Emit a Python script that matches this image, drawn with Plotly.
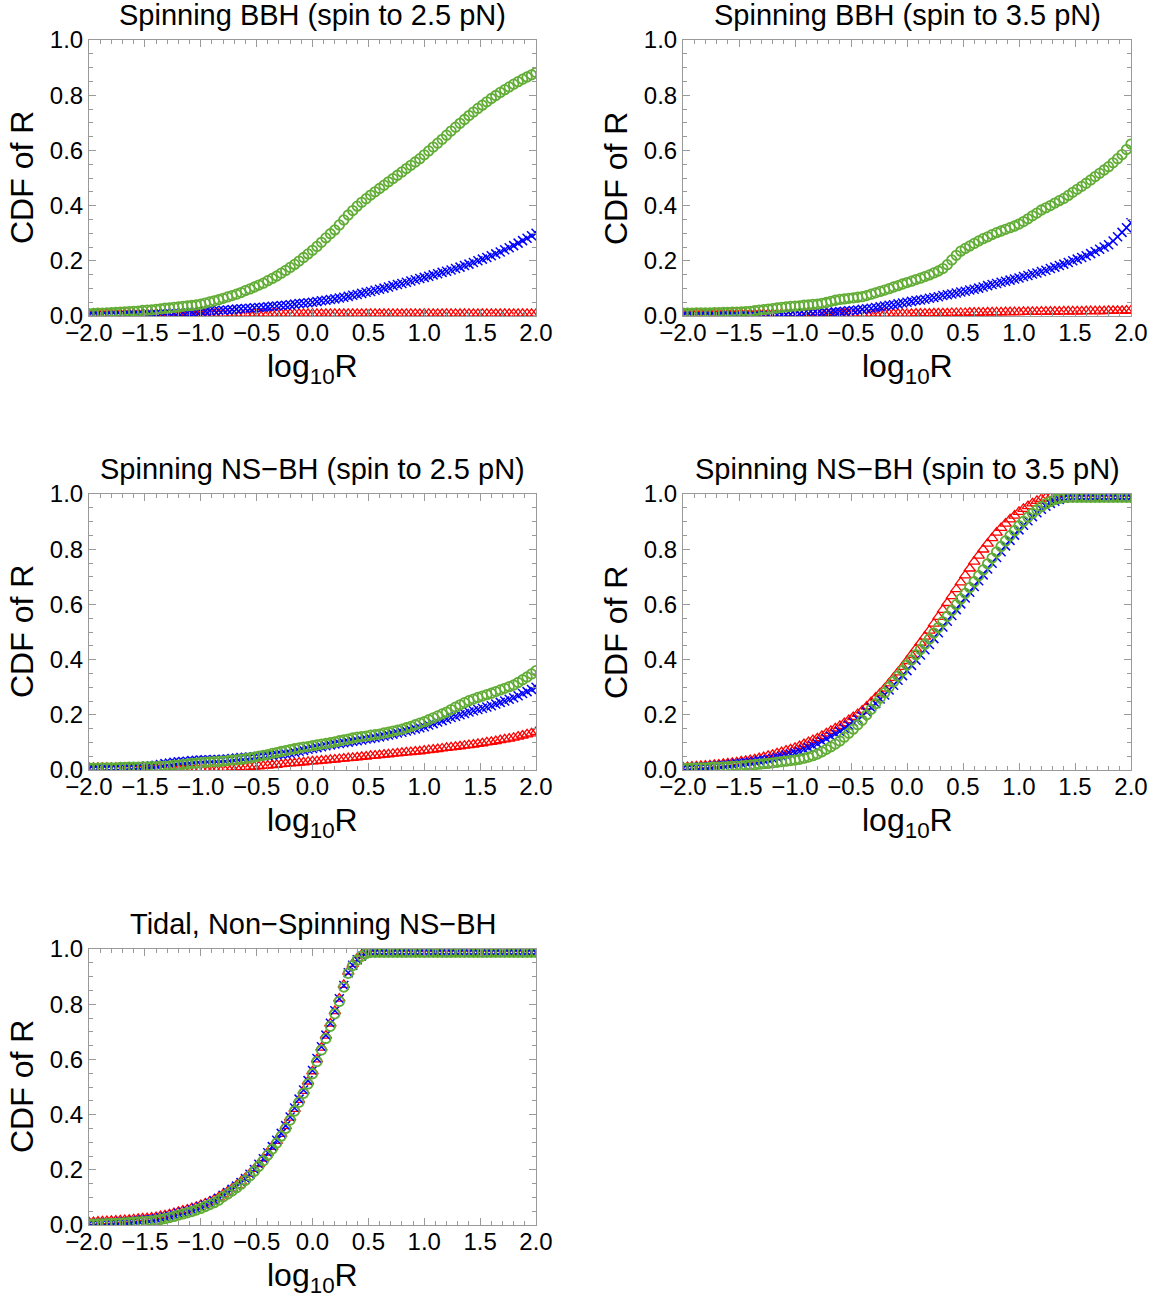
import plotly.graph_objects as go

# x grid: log10 R from -2 to 2 in steps of 0.04 (101 points)
log10R = [round(-2 + 0.04 * i, 2) for i in range(101)]

titles = ["Spinning BBH (spin to 2.5 pN)", "Spinning BBH (spin to 3.5 pN)",
          "Spinning NS\u2212BH (spin to 2.5 pN)", "Spinning NS\u2212BH (spin to 3.5 pN)",
          "Tidal, Non\u2212Spinning NS\u2212BH"]

# ---- Panel 1: Spinning BBH (2.5 pN)
p1_red = [0.008,0.008,0.008,0.008,0.008,0.008,0.008,0.008,0.008,0.008,0.008,0.008,0.008,0.008,0.008,0.008,0.008,0.008,0.008,0.008,
          0.008,0.008,0.008,0.008,0.008,0.008,0.008,0.008,0.008,0.008,0.008,0.008,0.008,0.008,0.008,0.008,0.008,0.008,0.008,0.008,
          0.008,0.008,0.008,0.008,0.008,0.008,0.008,0.008,0.008,0.008,0.008,0.008,0.008,0.008,0.008,0.008,0.008,0.008,0.008,0.008,
          0.008,0.008,0.008,0.008,0.008,0.008,0.008,0.008,0.008,0.008,0.008,0.008,0.008,0.008,0.008,0.008,0.008,0.008,0.008,0.008,
          0.008,0.008,0.008,0.008,0.008,0.008,0.008,0.008,0.008,0.008,0.008,0.008,0.008,0.008,0.008,0.008,0.008,0.008,0.008,0.008,0.008]
p1_blue = [0.002,0.002,0.002,0.003,0.003,0.003,0.003,0.004,0.004,0.005,0.005,0.006,0.006,0.007,0.007,0.008,0.009,0.010,0.010,0.011,
           0.012,0.013,0.014,0.014,0.015,0.016,0.017,0.018,0.019,0.020,0.021,0.022,0.023,0.025,0.026,0.027,0.028,0.030,0.031,0.032,
           0.033,0.035,0.036,0.038,0.039,0.041,0.043,0.045,0.046,0.048,0.050,0.052,0.055,0.057,0.060,0.062,0.065,0.068,0.071,0.075,
           0.078,0.082,0.086,0.089,0.093,0.097,0.101,0.105,0.110,0.114,0.118,0.122,0.127,0.131,0.136,0.140,0.144,0.149,0.153,0.158,
           0.162,0.167,0.172,0.177,0.183,0.188,0.194,0.200,0.206,0.212,0.218,0.225,0.232,0.240,0.247,0.255,0.264,0.273,0.282,0.291,0.300]
p1_green = [0.008,0.009,0.010,0.010,0.011,0.012,0.013,0.014,0.015,0.016,0.017,0.018,0.020,0.021,0.022,0.024,0.026,0.028,0.029,0.031,
            0.033,0.035,0.037,0.038,0.040,0.043,0.047,0.051,0.055,0.059,0.064,0.069,0.074,0.079,0.085,0.092,0.098,0.105,0.112,0.119,
            0.128,0.136,0.145,0.155,0.165,0.176,0.187,0.199,0.212,0.225,0.238,0.252,0.267,0.283,0.298,0.312,0.330,0.348,0.366,0.382,
            0.398,0.412,0.425,0.438,0.450,0.462,0.474,0.486,0.498,0.510,0.522,0.534,0.546,0.558,0.570,0.584,0.598,0.612,0.626,0.640,
            0.655,0.670,0.684,0.698,0.712,0.726,0.739,0.752,0.764,0.776,0.788,0.799,0.810,0.820,0.830,0.840,0.849,0.858,0.866,0.874,0.882]

# ---- Panel 2: Spinning BBH (3.5 pN)
p2_red = [0.008,0.008,0.008,0.008,0.008,0.008,0.008,0.008,0.008,0.008,0.008,0.008,0.008,0.008,0.008,0.008,0.008,0.008,0.008,0.008,
          0.008,0.008,0.008,0.008,0.008,0.008,0.008,0.008,0.008,0.008,0.008,0.008,0.008,0.008,0.008,0.008,0.008,0.008,0.008,0.008,
          0.008,0.008,0.008,0.008,0.008,0.008,0.008,0.008,0.008,0.008,0.008,0.008,0.009,0.009,0.009,0.009,0.010,0.010,0.010,0.010,
          0.011,0.011,0.011,0.011,0.012,0.012,0.012,0.012,0.013,0.013,0.013,0.013,0.014,0.014,0.014,0.014,0.015,0.015,0.015,0.015,
          0.016,0.016,0.016,0.016,0.016,0.017,0.017,0.017,0.017,0.017,0.018,0.018,0.018,0.018,0.018,0.019,0.019,0.019,0.019,0.020,0.020]
p2_blue = [0.001,0.001,0.001,0.001,0.001,0.001,0.001,0.001,0.002,0.002,0.002,0.002,0.002,0.002,0.002,0.002,0.002,0.003,0.003,0.003,
           0.004,0.004,0.005,0.005,0.006,0.007,0.008,0.008,0.009,0.009,0.010,0.011,0.012,0.013,0.015,0.016,0.017,0.019,0.020,0.022,
           0.024,0.026,0.028,0.031,0.033,0.036,0.039,0.041,0.044,0.047,0.050,0.053,0.056,0.058,0.061,0.064,0.067,0.070,0.074,0.077,
           0.080,0.083,0.087,0.090,0.094,0.097,0.101,0.105,0.110,0.114,0.118,0.122,0.126,0.130,0.134,0.138,0.143,0.147,0.152,0.156,
           0.161,0.166,0.172,0.177,0.183,0.188,0.194,0.200,0.206,0.212,0.218,0.226,0.234,0.242,0.250,0.258,0.272,0.287,0.303,0.320,0.338]
p2_green = [0.010,0.010,0.010,0.011,0.011,0.011,0.011,0.012,0.012,0.013,0.013,0.014,0.014,0.015,0.016,0.017,0.019,0.021,0.023,0.025,
            0.027,0.029,0.031,0.033,0.035,0.036,0.037,0.039,0.040,0.042,0.043,0.046,0.049,0.053,0.057,0.060,0.062,0.064,0.066,0.068,
            0.070,0.074,0.079,0.084,0.089,0.094,0.099,0.105,0.110,0.116,0.121,0.126,0.132,0.137,0.143,0.149,0.156,0.163,0.172,0.186,
            0.203,0.220,0.235,0.245,0.254,0.263,0.272,0.280,0.287,0.295,0.302,0.308,0.314,0.320,0.326,0.333,0.342,0.352,0.363,0.373,
            0.384,0.392,0.400,0.409,0.418,0.426,0.437,0.448,0.459,0.470,0.481,0.493,0.505,0.517,0.529,0.541,0.555,0.570,0.585,0.603,0.623]

# ---- Panel 3: Spinning NS-BH (2.5 pN)
p3_red = [0.008,0.008,0.008,0.008,0.008,0.008,0.008,0.008,0.008,0.008,0.008,0.008,0.007,0.007,0.007,0.007,0.007,0.006,0.006,0.006,
          0.006,0.006,0.006,0.006,0.006,0.006,0.006,0.006,0.007,0.007,0.007,0.007,0.008,0.009,0.009,0.010,0.011,0.012,0.013,0.015,
          0.016,0.018,0.019,0.021,0.022,0.024,0.025,0.027,0.028,0.030,0.031,0.032,0.034,0.035,0.037,0.038,0.040,0.041,0.043,0.044,
          0.046,0.048,0.049,0.051,0.052,0.054,0.056,0.057,0.059,0.060,0.062,0.064,0.065,0.067,0.068,0.070,0.072,0.074,0.076,0.078,
          0.080,0.082,0.084,0.086,0.088,0.090,0.092,0.095,0.097,0.100,0.102,0.105,0.108,0.111,0.114,0.117,0.121,0.125,0.129,0.133,0.138]
p3_blue = [0.003,0.004,0.004,0.005,0.005,0.006,0.007,0.007,0.008,0.009,0.010,0.011,0.012,0.014,0.015,0.017,0.020,0.023,0.025,0.028,
           0.030,0.031,0.032,0.034,0.035,0.036,0.037,0.037,0.038,0.038,0.039,0.040,0.042,0.043,0.045,0.046,0.047,0.048,0.050,0.051,
           0.052,0.054,0.056,0.057,0.059,0.061,0.064,0.068,0.071,0.075,0.078,0.081,0.084,0.088,0.091,0.094,0.096,0.099,0.101,0.104,
           0.106,0.109,0.112,0.114,0.117,0.120,0.123,0.127,0.130,0.134,0.137,0.141,0.145,0.149,0.153,0.157,0.163,0.168,0.174,0.179,
           0.185,0.190,0.195,0.200,0.205,0.210,0.215,0.219,0.224,0.228,0.233,0.239,0.245,0.250,0.256,0.262,0.269,0.277,0.284,0.292,0.300]
p3_green = [0.007,0.007,0.007,0.008,0.008,0.008,0.008,0.009,0.009,0.010,0.010,0.010,0.011,0.011,0.012,0.012,0.013,0.014,0.015,0.017,
            0.018,0.020,0.022,0.024,0.025,0.027,0.028,0.029,0.030,0.031,0.032,0.034,0.036,0.037,0.039,0.041,0.044,0.047,0.050,0.053,
            0.056,0.060,0.063,0.067,0.070,0.074,0.077,0.080,0.083,0.085,0.088,0.091,0.094,0.096,0.099,0.102,0.106,0.109,0.112,0.116,
            0.119,0.121,0.123,0.126,0.128,0.130,0.134,0.137,0.141,0.144,0.148,0.153,0.158,0.164,0.170,0.175,0.182,0.189,0.196,0.203,
            0.210,0.219,0.228,0.236,0.244,0.251,0.257,0.263,0.268,0.273,0.278,0.284,0.290,0.296,0.302,0.308,0.317,0.327,0.337,0.348,0.360]

# ---- Panel 4: Spinning NS-BH (3.5 pN)
p4_red = [0.010,0.011,0.012,0.013,0.015,0.016,0.017,0.019,0.020,0.022,0.024,0.026,0.028,0.031,0.033,0.036,0.039,0.043,0.047,0.051,
          0.055,0.060,0.065,0.070,0.075,0.080,0.087,0.094,0.101,0.108,0.115,0.124,0.133,0.142,0.151,0.160,0.170,0.181,0.192,0.203,
          0.215,0.230,0.246,0.262,0.278,0.295,0.314,0.334,0.354,0.374,0.395,0.417,0.439,0.461,0.483,0.505,0.530,0.555,0.580,0.605,
          0.630,0.655,0.680,0.705,0.730,0.755,0.777,0.799,0.820,0.840,0.860,0.877,0.893,0.908,0.922,0.935,0.946,0.956,0.966,0.975,
          0.982,0.986,0.988,0.988,0.988,0.988,0.988,0.988,0.988,0.988,0.988,0.988,0.988,0.988,0.988,0.988,0.988,0.988,0.988,0.988,0.988]
p4_blue = [0.006,0.007,0.008,0.010,0.011,0.012,0.013,0.015,0.016,0.018,0.019,0.021,0.023,0.025,0.027,0.029,0.031,0.034,0.036,0.039,
           0.042,0.046,0.050,0.054,0.058,0.062,0.068,0.075,0.081,0.088,0.095,0.104,0.113,0.122,0.131,0.140,0.151,0.162,0.173,0.184,
           0.195,0.210,0.226,0.241,0.257,0.272,0.290,0.307,0.325,0.342,0.360,0.379,0.398,0.417,0.436,0.455,0.476,0.497,0.518,0.539,
           0.560,0.581,0.602,0.623,0.644,0.665,0.686,0.707,0.728,0.749,0.770,0.791,0.812,0.832,0.851,0.870,0.887,0.903,0.918,0.932,
           0.945,0.956,0.966,0.974,0.980,0.985,0.987,0.988,0.988,0.988,0.988,0.988,0.988,0.988,0.988,0.988,0.988,0.988,0.988,0.988,0.988]
p4_green = [0.006,0.006,0.007,0.007,0.008,0.008,0.009,0.010,0.010,0.011,0.012,0.013,0.014,0.015,0.017,0.018,0.019,0.021,0.023,0.024,
            0.026,0.028,0.030,0.032,0.034,0.036,0.039,0.043,0.047,0.052,0.058,0.066,0.075,0.084,0.094,0.105,0.119,0.133,0.148,0.164,
            0.180,0.200,0.220,0.240,0.260,0.280,0.300,0.320,0.340,0.360,0.380,0.399,0.418,0.437,0.456,0.475,0.496,0.516,0.537,0.557,
            0.578,0.599,0.620,0.640,0.661,0.682,0.704,0.725,0.747,0.768,0.790,0.810,0.830,0.849,0.867,0.885,0.901,0.916,0.930,0.943,
            0.955,0.965,0.973,0.980,0.984,0.987,0.988,0.988,0.988,0.988,0.988,0.988,0.988,0.988,0.988,0.988,0.988,0.988,0.988,0.988,0.988]

# ---- Panel 5: Tidal, Non-Spinning NS-BH
p5_red = [0.010,0.011,0.012,0.013,0.014,0.015,0.016,0.017,0.018,0.019,0.021,0.022,0.024,0.025,0.027,0.029,
          0.032,0.035,0.039,0.043,0.048,0.052,0.056,0.061,0.066,0.072,0.078,0.085,0.092,0.100,0.111,
          0.121,0.132,0.144,0.157,0.171,0.186,0.203,0.221,0.241,0.262,0.283,0.305,0.330,0.358,0.389,0.421,0.453,0.486,0.520,0.557,
          0.600,0.643,0.686,0.730,0.775,0.820,0.870,0.918,0.946,0.966,0.979,0.987,0.988,
          0.988,0.988,0.988,0.988,0.988,0.988,0.988,0.988,0.988,0.988,0.988,0.988,0.988,0.988,0.988,0.988,0.988,0.988,0.988,0.988,
          0.988,0.988,0.988,0.988,0.988,0.988,0.988,0.988,0.988,0.988,0.988,0.988,0.988,0.988,0.988,0.988,0.988]
p5_blue = [0.005,0.006,0.007,0.007,0.008,0.009,0.010,0.011,0.012,0.013,0.015,0.016,0.018,0.019,0.021,0.023,
           0.026,0.029,0.033,0.037,0.042,0.046,0.050,0.055,0.060,0.066,0.073,0.080,0.088,0.097,0.108,
           0.118,0.129,0.141,0.154,0.168,0.184,0.201,0.220,0.240,0.262,0.284,0.307,0.332,0.360,0.391,0.424,0.456,0.489,0.523,0.560,
           0.603,0.646,0.688,0.731,0.776,0.820,0.868,0.914,0.941,0.961,0.975,0.985,0.988,
           0.988,0.988,0.988,0.988,0.988,0.988,0.988,0.988,0.988,0.988,0.988,0.988,0.988,0.988,0.988,0.988,0.988,0.988,0.988,0.988,
           0.988,0.988,0.988,0.988,0.988,0.988,0.988,0.988,0.988,0.988,0.988,0.988,0.988,0.988,0.988,0.988,0.988]
p5_green = [0.003,0.003,0.004,0.004,0.005,0.006,0.006,0.007,0.008,0.009,0.010,0.011,0.012,0.013,0.015,0.017,
            0.020,0.023,0.027,0.031,0.036,0.040,0.044,0.049,0.054,0.060,0.067,0.074,0.081,0.090,0.102,
            0.112,0.123,0.135,0.148,0.162,0.178,0.195,0.213,0.233,0.254,0.275,0.297,0.322,0.350,0.380,0.413,0.445,0.477,0.511,0.548,
            0.592,0.634,0.676,0.720,0.765,0.810,0.862,0.912,0.940,0.960,0.974,0.984,0.988,
            0.988,0.988,0.988,0.988,0.988,0.988,0.988,0.988,0.988,0.988,0.988,0.988,0.988,0.988,0.988,0.988,0.988,0.988,0.988,0.988,
            0.988,0.988,0.988,0.988,0.988,0.988,0.988,0.988,0.988,0.988,0.988,0.988,0.988,0.988,0.988,0.988,0.988]

panels = [(p1_red, p1_blue, p1_green), (p2_red, p2_blue, p2_green),
          (p3_red, p3_blue, p3_green), (p4_red, p4_blue, p4_green),
          (p5_red, p5_blue, p5_green)]

W, H = 1156, 1303
# panel pixel boxes (left, right, top, bottom)
boxes = [(89, 536, 40, 316), (683, 1131, 40, 316),
         (89, 536, 494, 770), (683, 1131, 494, 770),
         (89, 536, 949, 1225)]

RED, BLUE, GREEN = "#ff0000", "#0000ff", "#62ad36"
FRAME = "#9a9a9a"
FONT = "Liberation Sans, Arial, Helvetica, sans-serif"

fig = go.Figure()
layout = dict(width=W, height=H, margin=dict(l=0, r=0, t=0, b=0, autoexpand=False),
              paper_bgcolor="white", plot_bgcolor="white", showlegend=False,
              font=dict(family=FONT, color="black"))
annotations = []

for k, ((red, blue, green), (l, r, t, b)) in enumerate(zip(panels, boxes)):
    n = "" if k == 0 else str(k + 1)
    xa, ya = "x" + n, "y" + n
    fig.add_trace(go.Scatter(x=log10R, y=red, xaxis=xa, yaxis=ya, mode="markers",
                             marker=dict(symbol="triangle-up-open", size=10, color=RED,
                                         line=dict(width=1.3, color=RED))))
    fig.add_trace(go.Scatter(x=log10R, y=blue, xaxis=xa, yaxis=ya, mode="markers",
                             marker=dict(symbol="x-thin-open", size=9, color=BLUE,
                                         line=dict(width=1.5, color=BLUE))))
    fig.add_trace(go.Scatter(x=log10R, y=green, xaxis=xa, yaxis=ya, mode="markers",
                             marker=dict(symbol="circle-open", size=9.5, color=GREEN,
                                         line=dict(width=1.8, color=GREEN))))
    xdom = [l / W, r / W]
    ydom = [1 - b / H, 1 - t / H]
    common = dict(showline=True, linecolor=FRAME, linewidth=1, mirror="ticks",
                  ticks="inside", tickcolor=FRAME, ticklen=7, tickwidth=1,
                  showgrid=False, zeroline=False, tickformat=".1f", automargin=False,
                  tickfont=dict(size=24, family=FONT, color="black"))
    layout["xaxis" + n] = dict(domain=xdom, anchor=ya, range=[-2, 2], tick0=-2, dtick=0.5,
                               ticklabelstandoff=-5,
                               minor=dict(dtick=0.1, ticks="inside", ticklen=4, tickcolor=FRAME, showgrid=False),
                               **common)
    layout["yaxis" + n] = dict(domain=ydom, anchor=xa, range=[0, 1], tick0=0, dtick=0.2,
                               minor=dict(dtick=0.05, ticks="inside", ticklen=4, tickcolor=FRAME, showgrid=False),
                               **common)
    cx = (l + r) / 2 / W
    annotations.append(dict(text=titles[k], x=cx, y=1 - (t - 25) / H, xref="paper", yref="paper",
                            xanchor="center", yanchor="middle", showarrow=False,
                            font=dict(size=29, family=FONT, color="black")))
    annotations.append(dict(text="log<sub>10</sub>R", x=cx, y=1 - (b + 52) / H, xref="paper", yref="paper",
                            xanchor="center", yanchor="middle", showarrow=False,
                            font=dict(size=32, family=FONT, color="black")))
    annotations.append(dict(text="CDF of R", x=(l - 67) / W, y=1 - (t + b) / 2 / H, xref="paper", yref="paper",
                            xanchor="center", yanchor="middle", showarrow=False, textangle=-90,
                            font=dict(size=32, family=FONT, color="black")))

layout["annotations"] = annotations
fig.update_layout(**layout)
fig.write_html("out.html")
